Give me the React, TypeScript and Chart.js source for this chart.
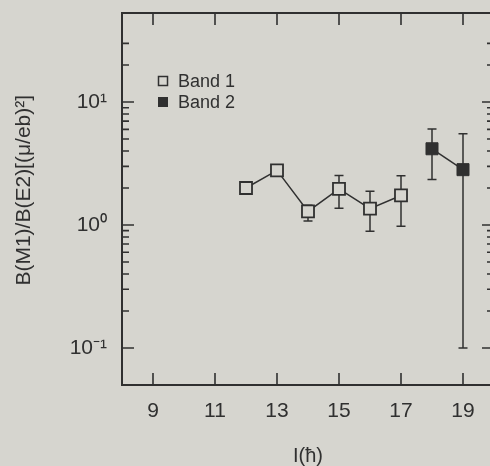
import React, { useEffect, useRef } from 'react';
import { Chart, registerables } from 'chart.js';

Chart.register(...registerables);

// ---- data ----
const band1Spin = [12, 13, 14, 15, 16, 17];
const band1Ratio = [2.0, 2.78, 1.29, 1.97, 1.36, 1.74];
const band1ErrLow: (number | null)[] = [null, null, 1.08, 1.37, 0.89, 0.975];
const band1ErrHigh: (number | null)[] = [null, null, 1.45, 2.53, 1.88, 2.52];

const band2Spin = [18, 19];
const band2Ratio = [4.17, 2.82];
const band2ErrLow = [2.34, 0.1];
const band2ErrHigh = [6.03, 5.52];

const seriesLabels = ['Band 1', 'Band 2'];
const xTickValues = [9, 11, 13, 15, 17, 19];
const yMajorTicks = [0.1, 1, 10];
const yTickLabels = ['10⁻¹', '10⁰', '10¹'];
const yMinorTicks = [0.2, 0.3, 0.4, 0.5, 0.6, 0.7, 0.8, 0.9, 2, 3, 4, 5, 6, 7, 8, 9, 20, 30];
const xTitle = 'I(ħ)';
const yTitle = '   B(M1)/B(E2)[(μ/eb)²]';

const BG = '#d6d5cf';
const INK = '#303030';
const FONT = "'Liberation Sans', Arial, Helvetica, sans-serif";

export default function App() {
  const ref = useRef<HTMLCanvasElement | null>(null);

  useEffect(() => {
    if (!ref.current) return;

    const bgPlugin = {
      id: 'bg',
      beforeDraw(chart: any) {
        const ctx = chart.ctx;
        ctx.save();
        ctx.fillStyle = BG;
        ctx.fillRect(0, 0, chart.width, chart.height);
        ctx.restore();
      },
    };

    const errPlugin = {
      id: 'errbars',
      beforeDatasetsDraw(chart: any) {
        const ctx = chart.ctx;
        const xs = chart.scales.x;
        const ys = chart.scales.y;
        const groups = [
          { sp: band1Spin, lo: band1ErrLow, hi: band1ErrHigh },
          { sp: band2Spin, lo: band2ErrLow, hi: band2ErrHigh },
        ];
        ctx.save();
        ctx.strokeStyle = INK;
        ctx.lineWidth = 1.5;
        groups.forEach((g) => {
          g.sp.forEach((s, i) => {
            const lo = g.lo[i];
            const hi = g.hi[i];
            if (lo == null || hi == null) return;
            const px = xs.getPixelForValue(s);
            const y1 = ys.getPixelForValue(lo);
            const y2 = ys.getPixelForValue(hi);
            ctx.beginPath();
            ctx.moveTo(px, y1);
            ctx.lineTo(px, y2);
            ctx.moveTo(px - 4.5, y1);
            ctx.lineTo(px + 4.5, y1);
            ctx.moveTo(px - 4.5, y2);
            ctx.lineTo(px + 4.5, y2);
            ctx.stroke();
          });
        });
        ctx.restore();
      },
    };

    const framePlugin = {
      id: 'frame',
      afterDraw(chart: any) {
        const ctx = chart.ctx;
        const { left, right, top, bottom } = chart.chartArea;
        const xs = chart.scales.x;
        const ys = chart.scales.y;
        ctx.save();
        ctx.strokeStyle = INK;
        ctx.lineWidth = 2;
        ctx.strokeRect(left, top, right - left, bottom - top);
        ctx.lineWidth = 1.6;
        ctx.beginPath();
        xs.ticks.forEach((t: any) => {
          const px = xs.getPixelForValue(t.value);
          ctx.moveTo(px, bottom);
          ctx.lineTo(px, bottom - 12);
          ctx.moveTo(px, top);
          ctx.lineTo(px, top + 12);
        });
        ys.ticks.forEach((t: any) => {
          const py = ys.getPixelForValue(t.value);
          const len = t.major ? 12 : 7;
          ctx.moveTo(left, py);
          ctx.lineTo(left + len, py);
          ctx.moveTo(right, py);
          ctx.lineTo(right - len, py);
        });
        ctx.stroke();

        // legend
        const ds = chart.data.datasets;
        ctx.font = `18px ${FONT}`;
        ctx.textBaseline = 'middle';
        ctx.textAlign = 'left';
        ds.forEach((d: any, i: number) => {
          const cy = 81 + i * 21;
          const cx = 163;
          ctx.lineWidth = 1.5;
          if (i === 0) {
            ctx.fillStyle = BG;
            ctx.fillRect(cx - 4.5, cy - 4.5, 9, 9);
            ctx.strokeRect(cx - 4.5, cy - 4.5, 9, 9);
          } else {
            ctx.fillStyle = INK;
            ctx.fillRect(cx - 5, cy - 5, 10, 10);
          }
          ctx.fillStyle = INK;
          ctx.fillText(d.label, 178, cy + 1);
        });
        ctx.restore();
      },
    };

    const chart = new Chart(ref.current, {
      type: 'scatter',
      data: {
        datasets: [
          {
            label: seriesLabels[0],
            data: band1Spin.map((x, i) => ({ x, y: band1Ratio[i] })),
            showLine: true,
            borderColor: INK,
            borderWidth: 1.5,
            pointStyle: 'rect',
            pointRadius: 8.5,
            pointBackgroundColor: BG,
            pointBorderColor: INK,
            pointBorderWidth: 1.8,
          },
          {
            label: seriesLabels[1],
            data: band2Spin.map((x, i) => ({ x, y: band2Ratio[i] })),
            showLine: true,
            borderColor: INK,
            borderWidth: 1.5,
            pointStyle: 'rect',
            pointRadius: 8.5,
            pointBackgroundColor: INK,
            pointBorderColor: INK,
            pointBorderWidth: 1,
          },
        ],
      },
      options: {
        responsive: false,
        animation: false,
        devicePixelRatio: 1,
        layout: { autoPadding: false, padding: { top: 13, right: 6, left: 0, bottom: 0 } },
        plugins: {
          legend: { display: false },
          tooltip: { enabled: false },
        },
        scales: {
          x: {
            type: 'linear',
            position: 'bottom',
            min: 8,
            max: 20,
            afterBuildTicks: (s: any) => {
              s.ticks = xTickValues.map((v) => ({ value: v }));
            },
            afterFit: (s: any) => {
              s.height = 81;
              s.paddingLeft = 0;
              s.paddingRight = 0;
              s.paddingTop = 0;
              s.paddingBottom = 0;
            },
            grid: { display: false, drawTicks: false },
            border: { display: false },
            ticks: {
              autoSkip: false,
              maxRotation: 0,
              padding: 14,
              color: INK,
              font: { family: FONT, size: 21 },
              callback: (v: any) => String(v),
            },
            title: {
              display: true,
              text: xTitle,
              color: INK,
              font: { family: FONT, size: 20, lineHeight: 1 },
              padding: { top: 0, bottom: 0 },
            },
          },
          y: {
            type: 'logarithmic',
            position: 'left',
            min: 0.05,
            max: 53,
            afterBuildTicks: (s: any) => {
              const all = [...yMinorTicks, ...yMajorTicks].sort((a, b) => a - b);
              s.ticks = all.map((v) => ({ value: v, major: yMajorTicks.includes(v) }));
            },
            afterFit: (s: any) => {
              s.width = 122;
              s.paddingLeft = 0;
              s.paddingRight = 0;
              s.paddingTop = 0;
              s.paddingBottom = 0;
            },
            grid: { display: false, drawTicks: false },
            border: { display: false },
            ticks: {
              autoSkip: false,
              padding: 15,
              color: INK,
              font: { family: FONT, size: 21 },
              callback: (v: any) => {
                const idx = yMajorTicks.findIndex((m) => Math.abs(m - Number(v)) < 1e-9);
                return idx >= 0 ? yTickLabels[idx] : '';
              },
            },
            title: {
              display: true,
              text: yTitle,
              color: INK,
              font: { family: FONT, size: 21, lineHeight: 1.2 },
              padding: { top: 12, bottom: 0 },
            },
          },
        },
      },
      plugins: [bgPlugin, errPlugin, framePlugin],
    } as any);

    return () => chart.destroy();
  }, []);

  return (
    <div
      style={{
        position: 'fixed',
        left: 0,
        top: 0,
        width: 490,
        height: 466,
        overflow: 'hidden',
        background: BG,
      }}
    >
      <canvas ref={ref} width={500} height={466} style={{ display: 'block' }} />
    </div>
  );
}
